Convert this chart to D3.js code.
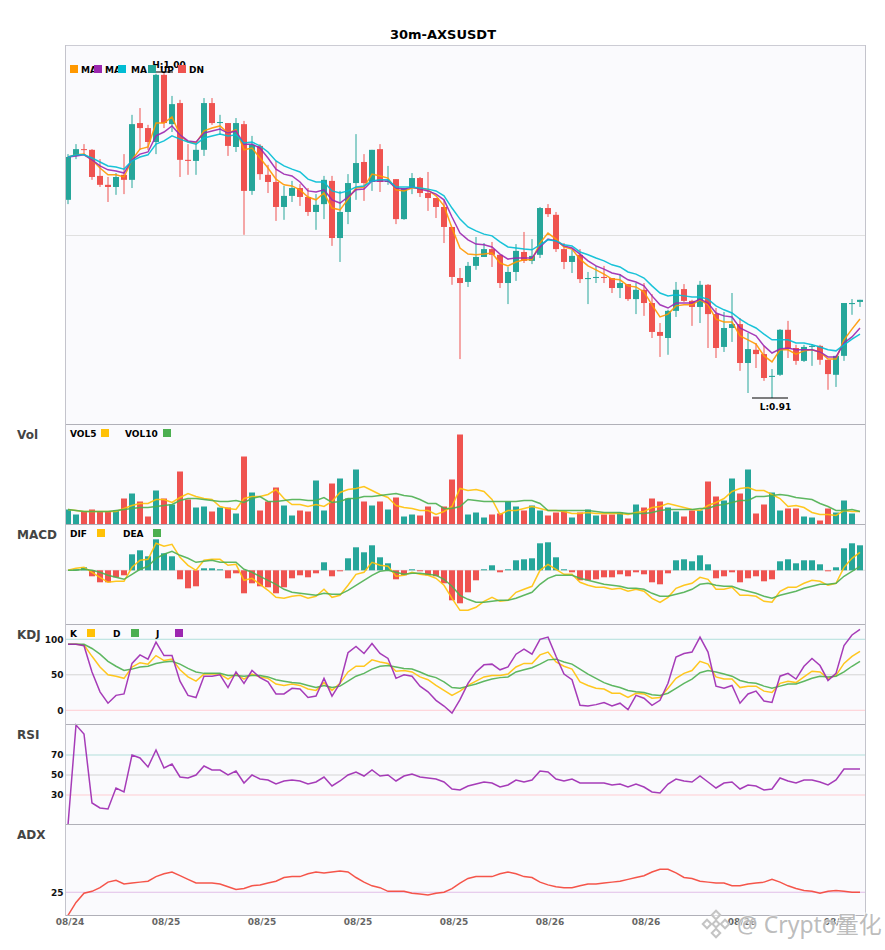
<!DOCTYPE html>
<html>
<head>
<meta charset="utf-8">
<script src="https://cdn.jsdelivr.net/npm/d3@7"></script>
<style>
  html, body { margin: 0; padding: 0; background: #fff; }
  svg { display: block; font-family: "DejaVu Sans", sans-serif; }
  .axis path, .axis line { display: none; }
  .axis text { font-family: "DejaVu Sans", sans-serif; font-weight: bold; }
</style>
</head>
<body>
<svg width="885" height="950"></svg>
<script>
// CANDLES
const open = [.9642,.9765,.9784,.9782,.9709,.9684,.9678,.9712,.9698,.9857,
  .9843,.9804,.9992,.9854,.9913,.9754,.9751,.9782,.9913,.9857,
  .9857,.9790,.9854,.9667,.9793,.9712,.9692,.9622,.9653,.9675,
  .9650,.9608,.9630,.9695,.9535,.9608,.9689,.9748,.9692,.9784,
  .9692,.9700,.9588,.9675,.9703,.9661,.9647,.9622,.9566,.9423,
  .9412,.9457,.9482,.9504,.9488,.9409,.9440,.9496,.9471,.9488,
  .9619,.9600,.9504,.9468,.9488,.9420,.9423,.9426,.9423,.9395,
  .9406,.9364,.9390,.9353,.9272,.9255,.9331,.9392,.9359,.9342,
  .9404,.9322,.9230,.9283,.9294,.9185,.9222,.9210,.9146,.9152,
  .9278,.9227,.9191,.9230,.9233,.9194,.9152,.9205,.9350,.9356];
const close = [.9762,.9784,.9782,.9706,.9684,.9678,.9706,.9698,.9854,.9843,
  .9804,.9992,.9857,.9910,.9754,.9751,.9782,.9913,.9857,.9860,
  .9793,.9857,.9667,.9796,.9714,.9692,.9622,.9653,.9675,.9650,
  .9608,.9628,.9698,.9535,.9608,.9689,.9745,.9689,.9782,.9692,
  .9695,.9588,.9675,.9703,.9661,.9647,.9622,.9566,.9426,.9409,
  .9457,.9482,.9504,.9488,.9409,.9440,.9499,.9471,.9485,.9619,
  .9602,.9504,.9468,.9485,.9420,.9423,.9426,.9423,.9395,.9409,
  .9364,.9390,.9353,.9272,.9261,.9331,.9390,.9359,.9342,.9404,
  .9322,.9227,.9283,.9294,.9185,.9224,.9210,.9143,.9149,.9278,
  .9224,.9191,.9230,.9233,.9194,.9154,.9205,.9353,.9353,.9362];
const high = [.9770,.9798,.9798,.9784,.9756,.9706,.9717,.9770,.9880,.9899,
  .9852,.9995,1.000,.9933,.9922,.9798,.9798,.9927,.9927,.9880,
  .9857,.9871,.9863,.9821,.9798,.9740,.9751,.9681,.9695,.9686,
  .9675,.9658,.9709,.9709,.9667,.9714,.9826,.9770,.9782,.9798,
  .9737,.9700,.9675,.9717,.9706,.9720,.9647,.9642,.9566,.9451,
  .9468,.9538,.9521,.9524,.9488,.9454,.9518,.9552,.9532,.9622,
  .9630,.9608,.9521,.9502,.9504,.9440,.9457,.9457,.9423,.9434,
  .9406,.9409,.9409,.9378,.9297,.9334,.9412,.9406,.9362,.9415,
  .9406,.9339,.9328,.9381,.9311,.9269,.9241,.9233,.9168,.9280,
  .9303,.9236,.9236,.9238,.9236,.9194,.9205,.9353,.9364,.9362];
const low = [.9630,.9756,.9768,.9698,.9678,.9636,.9656,.9658,.9675,.9782,
  .9782,.9770,.9843,.9832,.9706,.9712,.9712,.9765,.9852,.9824,
  .9765,.9776,.9544,.9656,.9698,.9661,.9583,.9586,.9636,.9625,
  .9597,.9558,.9588,.9513,.9468,.9574,.9642,.9639,.9667,.9664,
  .9684,.9574,.9586,.9658,.9650,.9611,.9591,.9521,.9404,.9196,
  .9398,.9446,.9482,.9454,.9395,.9350,.9415,.9465,.9462,.9479,
  .9594,.9496,.9448,.9437,.9409,.9350,.9409,.9409,.9381,.9367,
  .9359,.9322,.9317,.9255,.9202,.9208,.9314,.9356,.9289,.9297,
  .9227,.9199,.9216,.9244,.9163,.9101,.9171,.9135,.9087,.9149,
  .9199,.9180,.9188,.9177,.9180,.9110,.9118,.9191,.9320,.9342];

// MOVING AVERAGES
const ma1 = [.9762,.9768,.9770,.9754,.9731,.9712,.9712,.9706,.9754,.9784,
  .9790,.9857,.9857,.9874,.9824,.9804,.9801,.9835,.9843,.9849,
  .9829,.9838,.9782,.9787,.9759,.9731,.9700,.9684,.9681,.9670,
  .9650,.9642,.9661,.9619,.9614,.9644,.9675,.9678,.9714,.9709,
  .9703,.9670,.9667,.9675,.9675,.9670,.9653,.9625,.9563,.9507,
  .9490,.9488,.9490,.9493,.9465,.9457,.9468,.9474,.9474,.9521,
  .9549,.9532,.9510,.9504,.9476,.9457,.9446,.9434,.9420,.9418,
  .9401,.9398,.9384,.9348,.9314,.9322,.9345,.9348,.9348,.9362,
  .9348,.9308,.9300,.9300,.9261,.9250,.9238,.9205,.9188,.9222,
  .9222,.9210,.9219,.9222,.9216,.9196,.9196,.9250,.9280,.9308];
const ma2 = [.9762,.9765,.9768,.9754,.9737,.9726,.9723,.9717,.9754,.9770,
  .9776,.9821,.9832,.9849,.9824,.9807,.9804,.9829,.9835,.9840,
  .9829,.9835,.9798,.9798,.9787,.9759,.9728,.9714,.9709,.9692,
  .9667,.9664,.9670,.9642,.9633,.9650,.9670,.9672,.9695,.9695,
  .9695,.9675,.9672,.9678,.9672,.9667,.9658,.9642,.9594,.9549,
  .9530,.9518,.9516,.9510,.9490,.9476,.9479,.9479,.9479,.9510,
  .9532,.9527,.9513,.9507,.9490,.9471,.9457,.9448,.9437,.9432,
  .9418,.9412,.9401,.9373,.9348,.9339,.9353,.9353,.9353,.9364,
  .9353,.9325,.9317,.9314,.9283,.9272,.9261,.9233,.9213,.9224,
  .9227,.9222,.9222,.9222,.9216,.9202,.9202,.9241,.9258,.9283];
const ma3 = [.9762,.9768,.9768,.9759,.9748,.9737,.9734,.9728,.9751,.9762,
  .9768,.9798,.9807,.9821,.9812,.9804,.9798,.9815,.9821,.9826,
  .9821,.9824,.9801,.9804,.9793,.9776,.9751,.9737,.9728,.9720,
  .9700,.9692,.9692,.9667,.9661,.9667,.9678,.9681,.9695,.9698,
  .9698,.9678,.9678,.9678,.9675,.9672,.9667,.9653,.9619,.9588,
  .9566,.9555,.9546,.9541,.9524,.9510,.9507,.9504,.9502,.9516,
  .9530,.9527,.9516,.9513,.9496,.9488,.9479,.9471,.9460,.9454,
  .9440,.9434,.9423,.9401,.9381,.9373,.9376,.9373,.9370,.9370,
  .9364,.9345,.9334,.9325,.9308,.9294,.9283,.9266,.9250,.9250,
  .9250,.9241,.9241,.9236,.9230,.9222,.9219,.9236,.9252,.9266];

// VOLUME
const vol = [15,10,13,15,13,13,14,26,31,23,8,34,26,20,53,25,17,18,13,17,
  17,11,68,32,14,23,37,19,9,14,13,44,14,41,46,26,55,23,19,23,
  15,27,8,10,9,18,8,18,45,90,10,12,7,10,11,23,18,14,19,14,
  9,12,13,7,12,15,9,10,10,12,6,20,17,26,23,17,13,8,14,14,
  43,28,24,46,31,55,11,20,32,14,16,16,8,7,4,16,12,24,11,0.5];
const vol5 = [15,14,13,13,13,13,13,16,19,21,21,25,25,22,27,31,28,26,25,18,
  16,15,26,28,28,30,35,26,20,20,18,20,18,23,32,35,36,38,34,30,
  27,19,17,16,14,14,10,13,18,36,34,35,33,25,10,14,14,16,18,16,
  14,14,13,11,11,12,11,11,11,11,10,12,13,17,18,21,19,17,15,14,
  19,22,26,33,36,37,34,34,30,26,18,19,17,12,10,10,9,14,13,13];
const vol10 = [15,14,13,13,13,13,14,15,16,17,17,18,19,20,24,26,26,25,24,23,
  23,24,22,26,28,23,23,24,25,25,24,24,27,22,23,26,26,28,28,29,
  30,31,29,28,25,21,21,16,16,18,25,24,23,23,23,23,23,24,24,21,
  14,14,14,14,14,14,13,12,12,12,11,11,11,12,14,15,15,15,15,16,
  16,19,20,22,24,24,28,28,29,30,29,27,26,25,21,18,14,14,15,13];

// MACD (x 1e-4)
const hist = [0,1,3,-6,-12,-12,-7,-5,16,20,14,31,17,14,-9,-18,-16,2,2,1,
  -8,-3,-23,-13,-16,-17,-23,-17,-8,-5,-7,-3,8,-6,-1,12,23,18,25,13,
  7,-9,-5,1,-1,-5,-6,-13,-30,-33,-22,-10,1,5,-2,1,10,11,12,27,
  28,13,1,-2,-10,-10,-9,-7,-7,-4,-6,-2,-4,-12,-14,-3,10,11,9,15,
  6,-8,-6,-2,-12,-8,-6,-11,-9,9,11,7,10,10,6,-1,3,22,27,25];
const dif = [0,2,3,-2,-7,-12,-11,-11,3,10,11,27,24,26,13,5,0,10,11,11,
  5,6,-10,-8,-14,-20,-27,-28,-26,-25,-28,-26,-19,-27,-25,-15,-4,-2,8,5,
  4,-6,-5,-2,-4,-5,-8,-15,-28,-40,-40,-37,-31,-27,-31,-30,-22,-19,-16,0,
  6,1,-4,-4,-12,-15,-17,-17,-19,-18,-21,-19,-21,-28,-32,-27,-18,-15,-13,-7,
  -9,-19,-19,-17,-25,-25,-26,-31,-32,-21,-17,-17,-13,-10,-11,-15,-13,3,12,18];
const dea = [0,0,1,0,-2,-5,-7,-9,-4,1,4,12,16,19,15,12,8,9,10,8,
  8,8,1,-2,-6,-10,-14,-19,-22,-23,-24,-25,-23,-24,-24,-20,-15,-10,-5,-1,
  0,-2,-4,-3,-3,-4,-5,-9,-16,-25,-29,-32,-32,-31,-30,-30,-28,-25,-22,-14,
  -8,-5,-5,-5,-8,-10,-12,-14,-15,-16,-18,-18,-19,-23,-26,-26,-24,-22,-19,-14,
  -13,-15,-16,-16,-19,-21,-23,-26,-28,-25,-23,-21,-18,-16,-14,-14,-13,-6,-1,4];

// KDJ
const kVal = [93,93,92,76,61,50,48,45,61,67,65,77,70,72,57,47,41,51,51,51,
  44,51,44,51,47,45,37,35,37,35,30,28,39,28,38,54,62,62,71,68,
  66,55,56,54,47,43,35,28,21,27,35,41,47,49,49,51,61,66,66,78,
  82,68,62,58,40,35,31,30,24,24,18,24,23,17,18,31,45,52,56,69,
  65,47,44,44,32,34,34,27,25,38,41,39,47,55,54,45,49,66,76,83];
const dVal = [93,93,93,87,79,69,62,56,58,61,62,66,68,69,65,59,54,52,52,52,
  49,49,48,49,49,47,43,41,39,38,35,32,35,32,34,41,48,52,58,62,
  63,61,59,58,54,49,46,40,32,31,34,37,41,44,46,47,54,57,60,65,
  71,72,68,65,58,51,45,39,35,32,28,26,25,22,21,24,31,38,44,53,
  56,54,51,48,42,39,38,34,31,34,37,37,41,45,48,47,48,54,62,69];
const jVal = [93,93,91,54,26,10,21,23,66,78,72,96,77,77,41,21,18,48,48,50,
  32,54,38,56,46,40,23,23,31,30,18,20,45,20,38,81,90,80,94,80,
  73,45,50,48,34,26,14,6,-4,15,38,54,64,65,57,61,79,86,79,100,
  103,76,51,43,7,6,8,11,6,10,1,21,17,7,14,38,75,80,82,103,
  82,34,31,35,10,23,27,13,11,48,52,44,62,73,63,42,52,91,106,114];

// RSI
const rsiVal = [0,100,91,22,17,16,37,33,70,67,58,75,57,61,48,47,50,59,55,55,
  50,54,42,50,46,45,41,44,45,44,41,43,48,39,44,50,53,49,55,49,
  50,44,49,51,48,47,46,43,36,35,39,41,43,42,38,40,45,43,45,54,
  53,46,44,46,42,42,42,42,40,41,38,41,38,33,32,41,46,44,43,49,
  43,37,42,43,36,40,39,35,36,47,44,42,45,45,43,40,45,56,56,56];

// ADX
const adxVal = [0,14,24,26,30,36,38,34,35,36,37,42,45,47,43,39,35,35,35,34,
  31,28,29,32,33,35,37,41,42,42,45,47,46,47,48,47,41,36,32,30,
  26,26,26,24,23,22,24,25,29,35,40,42,42,42,45,47,45,42,41,36,
  33,31,30,30,32,34,34,35,36,37,39,41,43,47,50,50,46,41,40,37,
  36,35,35,32,32,34,35,36,39,36,32,29,27,26,24,26,27,26,25,25];

// TICK LABELS
const xTickIdx = [0, 12, 24, 36, 48, 60, 72, 84, 96];
const xTickText = ["08/24", "08/25", "08/25", "08/25", "08/25", "08/26", "08/26", "08/26", "08/26"];

const UP = "#26a69a", DOWN = "#ef5350";
const YELLOW = "#ffc107", GREEN = "#4caf50", PURPLE = "#9c27b0";

const svg = d3.select("svg");
const left = 65.5, right = 865.5;

// SCALE
const xScale = d3.scaleBand().domain(d3.range(100)).range([64, 864]);
const cx = i => xScale(i) + xScale.bandwidth() / 2;

const yPrice = d3.scaleLinear().domain([1.0, 0.9087]).range([72, 398]);
const yVol = d3.scaleLinear().domain([0, 100]).range([524.5, 424.5]);
const yMacd = d3.scaleLinear().domain([-54.2, 45.8]).range([624.5, 524.5]);
const yKdj = d3.scaleLinear().domain([-20, 120.8]).range([724.5, 624.5]);
const yRsi = d3.scaleLinear().domain([0, 100]).range([825, 725]);
const yAdx = d3.scaleLinear().domain([0, 98]).range([915.3, 825]);

svg.append("clipPath").attr("id", "plot")
    .append("rect").attr("x", left).attr("y", 45).attr("width", right - left).attr("height", 871);

// PANELS
const panels = [[45, 424.5], [424.5, 524.5], [524.5, 624.5], [624.5, 724.5], [724.5, 824.5], [824.5, 915.5]];
svg.selectAll("rect.panel")
    .data(panels)
    .enter()
    .append("rect")
    .attr("class", "panel")
    .attr("x", left)
    .attr("y", d => d[0])
    .attr("width", right - left)
    .attr("height", d => d[1] - d[0])
    .attr("fill", "#fafafd");

// GUIDE LINES
function guide(y, color) {
    svg.append("line")
        .attr("x1", left).attr("x2", right)
        .attr("y1", y).attr("y2", y)
        .attr("stroke", color)
        .attr("stroke-width", 1);
}
guide(235.5, "#e0e0e0");
guide(yMacd(0), "#e0e0e0");
guide(yKdj(100), "#b2dfdb");
guide(yKdj(50), "#d4d4d4");
guide(yKdj(0), "#ffcdd2");
guide(yRsi(70), "#b2dfdb");
guide(yRsi(50), "#d4d4d4");
guide(yRsi(30), "#ffcdd2");
guide(yAdx(25), "#e1bee7");

const plot = svg.append("g").attr("clip-path", "url(#plot)");

function drawLine(values, yScale, color) {
    plot.append("path")
        .datum(values)
        .attr("fill", "none")
        .attr("stroke", color)
        .attr("stroke-width", 1.5)
        .attr("stroke-opacity", 0.9)
        .attr("d", d3.line().x((d, i) => cx(i)).y(d => yScale(d)));
}

// CANDLES
const candles = d3.range(100);
const candleColor = i => close[i] >= open[i] ? UP : DOWN;

plot.selectAll("line.wick")
    .data(candles)
    .enter()
    .append("line")
    .attr("class", "wick")
    .attr("x1", cx).attr("x2", cx)
    .attr("y1", i => yPrice(high[i]))
    .attr("y2", i => yPrice(low[i]))
    .attr("stroke", candleColor)
    .attr("stroke-width", 1);

plot.selectAll("rect.body")
    .data(candles)
    .enter()
    .append("rect")
    .attr("class", "body")
    .attr("x", i => cx(i) - 3)
    .attr("width", 6)
    .attr("y", i => yPrice(Math.max(open[i], close[i])))
    .attr("height", i => Math.max(1, Math.abs(yPrice(open[i]) - yPrice(close[i]))))
    .attr("fill", candleColor);

drawLine(ma1, yPrice, "#ff9800");
drawLine(ma2, yPrice, PURPLE);
drawLine(ma3, yPrice, "#00bcd4");

// HIGH / LOW MARKS
const hiIdx = high.indexOf(d3.max(high));
const loIdx = low.indexOf(d3.min(low));
svg.append("line")
    .attr("x1", cx(hiIdx) - 9).attr("x2", cx(hiIdx) + 9)
    .attr("y1", yPrice(high[hiIdx])).attr("y2", yPrice(high[hiIdx]))
    .attr("stroke", "#000");
svg.append("text")
    .attr("x", cx(hiIdx) + 5).attr("y", yPrice(high[hiIdx]) - 4.5)
    .attr("text-anchor", "middle")
    .attr("font-size", "9px").attr("font-weight", "bold")
    .text("H:" + d3.max(high).toFixed(2));
svg.append("line")
    .attr("x1", cx(loIdx) - 20).attr("x2", cx(loIdx) + 16)
    .attr("y1", yPrice(low[loIdx])).attr("y2", yPrice(low[loIdx]))
    .attr("stroke", "#000");
svg.append("text")
    .attr("x", cx(loIdx) + 3.5).attr("y", yPrice(low[loIdx]) + 12)
    .attr("text-anchor", "middle")
    .attr("font-size", "9px").attr("font-weight", "bold")
    .text("L:" + d3.min(low).toFixed(2));

// VOLUME
plot.selectAll("rect.vol")
    .data(candles)
    .enter()
    .append("rect")
    .attr("class", "vol")
    .attr("x", i => cx(i) - 3)
    .attr("width", 6)
    .attr("y", i => yVol(vol[i]))
    .attr("height", i => yVol(0) - yVol(vol[i]))
    .attr("fill", candleColor);
drawLine(vol5, yVol, YELLOW);
drawLine(vol10, yVol, GREEN);

// MACD
plot.selectAll("rect.hist")
    .data(candles)
    .enter()
    .append("rect")
    .attr("class", "hist")
    .attr("x", i => cx(i) - 3)
    .attr("width", 6)
    .attr("y", i => yMacd(Math.max(0, hist[i])))
    .attr("height", i => Math.abs(yMacd(hist[i]) - yMacd(0)))
    .attr("fill", i => hist[i] >= 0 ? UP : DOWN);
drawLine(dif, yMacd, YELLOW);
drawLine(dea, yMacd, GREEN);

// KDJ
drawLine(kVal, yKdj, YELLOW);
drawLine(dVal, yKdj, GREEN);
drawLine(jVal, yKdj, PURPLE);

// RSI / ADX
drawLine(rsiVal, yRsi, PURPLE);
drawLine(adxVal, yAdx, "#f44336");

// BORDERS
svg.selectAll("line.divider")
    .data([424.5, 524.5, 624.5, 724.5, 824.5, 915.5])
    .enter()
    .append("line")
    .attr("class", "divider")
    .attr("x1", left).attr("x2", right)
    .attr("y1", d => d).attr("y2", d => d)
    .attr("stroke", "#b0b0b8");
svg.append("line").attr("x1", left).attr("x2", right).attr("y1", 45.5).attr("y2", 45.5).attr("stroke", "#ccccd4");
svg.append("line").attr("x1", left).attr("x2", left).attr("y1", 45).attr("y2", 916).attr("stroke", "#c4c4cc");
svg.append("line").attr("x1", right).attr("x2", right).attr("y1", 45).attr("y2", 916).attr("stroke", "#c4c4cc");

// AXIS
function leftAxis(scale, values) {
    const g = svg.append("g")
        .attr("class", "axis")
        .attr("transform", `translate(${left - 2},0)`)
        .call(d3.axisLeft(scale).tickValues(values).tickSize(0).tickPadding(0));
    g.selectAll("text").attr("font-size", "9px").attr("fill", "#111");
}
leftAxis(yKdj, [0, 50, 100]);
leftAxis(yRsi, [30, 50, 70]);
leftAxis(yAdx, [25]);

const xAxis = svg.append("g")
    .attr("class", "axis")
    .attr("transform", "translate(2,915.5)")
    .call(d3.axisBottom(xScale)
        .tickValues(xTickIdx)
        .tickSize(0)
        .tickPadding(3)
        .tickFormat(i => xTickText[xTickIdx.indexOf(i)]));
xAxis.selectAll("text").attr("font-size", "9px").attr("fill", "#666");

// TITLE
svg.append("text")
    .attr("x", 443)
    .attr("y", 39)
    .attr("text-anchor", "middle")
    .attr("font-size", "13px")
    .attr("font-weight", "bold")
    .text("30m-AXSUSDT");

// PANEL NAMES
const panelNames = ["Vol", "MACD", "KDJ", "RSI", "ADX"];
svg.selectAll("text.name")
    .data(panelNames)
    .enter()
    .append("text")
    .attr("class", "name")
    .attr("x", 17)
    .attr("y", (d, i) => 439 + i * 100)
    .attr("font-size", "12px")
    .attr("font-weight", "bold")
    .attr("fill", "#444")
    .text(d => d);

// LEGENDS
function legend(items, y) {
    const row = svg.append("g");
    items.forEach(d => {
        row.append("text")
            .attr("x", d.tx).attr("y", y)
            .attr("font-size", "9px").attr("font-weight", "bold")
            .text(d.label);
    });
    items.forEach(d => {
        row.append("rect")
            .attr("x", d.sx).attr("y", y - 8)
            .attr("width", 8).attr("height", 8)
            .attr("fill", d.color);
    });
}
legend([
    { label: "MA", tx: 81, sx: 70, color: "#ff9800" },
    { label: "MA", tx: 105, sx: 94, color: PURPLE },
    { label: "MA", tx: 131, sx: 118, color: "#00bcd4" },
    { label: "UP", tx: 160, sx: 148, color: UP },
    { label: "DN", tx: 189, sx: 178, color: DOWN }
], 73);
legend([
    { label: "VOL5", tx: 70, sx: 101, color: YELLOW },
    { label: "VOL10", tx: 125, sx: 163, color: GREEN }
], 437);
legend([
    { label: "DIF", tx: 70, sx: 97, color: YELLOW },
    { label: "DEA", tx: 123, sx: 153, color: GREEN }
], 537);
legend([
    { label: "K", tx: 70, sx: 87, color: YELLOW },
    { label: "D", tx: 113, sx: 131, color: GREEN },
    { label: "J", tx: 156, sx: 175, color: PURPLE }
], 637);

// WATERMARK
const mark = svg.append("g")
    .attr("transform", "translate(716,924)")
    .attr("fill", "#fff")
    .attr("fill-opacity", 0.6)
    .attr("stroke", "#c4c4c4")
    .attr("stroke-width", 2);
[[0, -9, 6], [-9, 0, 6], [9, 0, 6], [0, 9, 6], [0, 0, 5]].forEach(d => {
    mark.append("rect")
        .attr("x", -d[2] / 2).attr("y", -d[2] / 2)
        .attr("width", d[2]).attr("height", d[2])
        .attr("transform", `translate(${d[0]},${d[1]}) rotate(45)`);
});
svg.append("text")
    .attr("x", 737)
    .attr("y", 933)
    .attr("font-family", "'Noto Sans', 'Noto Sans CJK SC', sans-serif")
    .attr("font-size", "23px")
    .attr("fill", "#b4b4b4")
    .attr("fill-opacity", 0.9)
    .attr("stroke", "#fff")
    .attr("stroke-width", 2)
    .attr("stroke-opacity", 0.6)
    .attr("paint-order", "stroke")
    .text("@ Crypto量化");
</script>
</body>
</html>
